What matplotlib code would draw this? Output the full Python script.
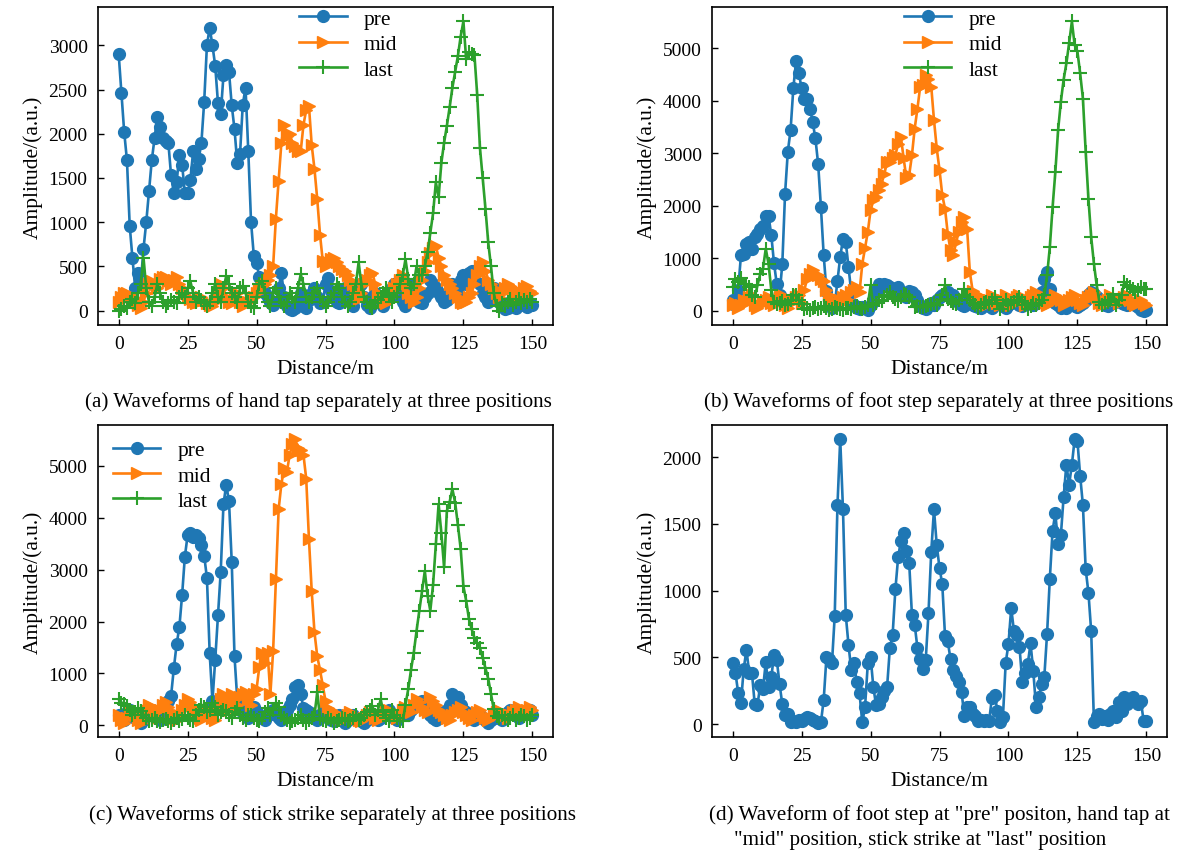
import numpy as np
import matplotlib
matplotlib.use("Agg")
import matplotlib.pyplot as plt

plt.rcParams["font.family"] = ["Liberation Serif", "DejaVu Serif"]

distance = np.arange(0, 151)

# (a) hand tap
pre_a = [2900, 2460, 2020, 1700, 960, 590, 250, 420, 300, 700,
         1000, 1350, 1700, 1950, 2190, 2080, 1950, 1920, 1900, 1530,
         1330, 1450, 1760, 1650, 1330, 1330, 1480, 1800, 1600, 1710,
         1900, 2360, 3000, 3200, 3000, 2770, 2350, 2220, 2660, 2780,
         2700, 2320, 2050, 1670, 1770, 2330, 2520, 1800, 1000, 620,
         540, 375, 250, 200, 150, 100, 60, 100, 250, 430,
         150, 50, 20, 10, 30, 100, 200, 50, 30, 120,
         200, 260, 150, 80, 100, 300, 370, 220, 150, 100,
         80, 150, 250, 200, 100, 50, 150, 280, 300, 150,
         60, 30, 100, 200, 150, 80, 50, 120, 200, 250,
         300, 200, 150, 100, 50, 150, 300, 250, 200, 100,
         80, 150, 200, 350, 300, 250, 200, 150, 100, 120,
         200, 300, 250, 200, 350, 400, 300, 420, 450, 350,
         460, 300, 200, 150, 100, 200, 250, 150, 100, 50,
         20, 30, 100, 50, 30, 80, 100, 60, 40, 80,
         60]
mid_a = [100, 150, 200, 200, 180, 150, 100, 60, 30, 100,
         200, 300, 340, 300, 250, 360, 375, 375, 340, 300,
         350, 380, 300, 250, 200, 150, 130, 100, 80, 100,
         150, 120, 80, 60, 50, 100, 200, 300, 250, 150,
         100, 80, 150, 200, 100, 50, 80, 100, 130, 150,
         200, 245, 280, 300, 350, 400, 500, 1040, 1470, 1900,
         2100, 1970, 2000, 1900, 1860, 1800, 1800, 2100, 2270, 2310,
         1870, 1600, 1260, 860, 560, 500, 550, 580, 600, 550,
         500, 470, 450, 400, 350, 300, 200, 130, 200, 300,
         350, 400, 430, 300, 200, 150, 100, 80, 150, 200,
         250, 300, 350, 400, 300, 200, 150, 100, 150, 250,
         350, 450, 550, 650, 710, 730, 600, 500, 400, 350,
         300, 250, 200, 150, 100, 80, 100, 150, 200, 300,
         400, 500, 545, 450, 350, 300, 250, 200, 150, 200,
         250, 300, 280, 250, 200, 150, 200, 250, 280, 220,
         200]
last_a = [0, 20, 50, 30, 100, 130, 80, 200, 300, 600,
          250, 100, 50, 150, 300, 200, 100, 50, 80, 120,
          100, 80, 150, 200, 150, 250, 330, 200, 100, 150,
          120, 80, 50, 100, 200, 300, 150, 100, 250, 390,
          300, 200, 150, 100, 250, 280, 200, 100, 50, 30,
          150, 300, 340, 200, 100, 50, 200, 250, 150, 100,
          50, 100, 200, 150, 100, 250, 410, 300, 150, 100,
          150, 200, 250, 150, 100, 50, 100, 150, 200, 300,
          250, 150, 100, 50, 100, 200, 300, 545, 300, 150,
          100, 50, 30, 80, 120, 150, 200, 250, 180, 100,
          150, 200, 300, 400, 580, 360, 250, 300, 500, 400,
          400, 500, 660, 880, 1100, 1450, 1280, 1670, 1900, 2090,
          2300, 2520, 2700, 2880, 3100, 3270, 2840, 2920, 2900, 2890,
          2440, 1840, 1500, 1150, 770, 500, 200, 50, 0, 80,
          50, 100, 130, 60, 100, 130, 80, 120, 100, 130,
          100]

# (b) foot step
pre_b = [200, 100, 400, 1050, 1080, 1270, 1300, 1180, 1400, 1460,
         1560, 1620, 1810, 1810, 1440, 900, 500, 300, 890, 2230,
         3030, 3440, 4240, 4760, 4520, 4240, 4040, 4040, 3850, 3600,
         3280, 2790, 1970, 1060, 380, 200, 50, 100, 570, 1020,
         1370, 1310, 830, 350, 100, 50, 30, 60, 50, 20,
         100, 200, 400, 510, 450, 500, 490, 450, 380, 400,
         440, 350, 300, 250, 380, 350, 300, 200, 100, 50,
         30, 80, 150, 100, 200, 250, 300, 290, 350, 280,
         290, 200, 150, 100, 80, 150, 200, 100, 80, 60,
         50, 100, 150, 80, 50, 100, 150, 120, 80, 50,
         100, 150, 200, 150, 100, 80, 150, 200, 180, 100,
         150, 250, 350, 600, 730, 410, 200, 150, 100, 50,
         80, 50, 100, 150, 80, 60, 100, 150, 200, 300,
         350, 320, 250, 200, 150, 100, 80, 120, 150, 200,
         180, 150, 130, 100, 150, 130, 100, 60, 20, 0,
         10]
mid_b = [100, 150, 50, 100, 200, 150, 250, 300, 100, 50,
         100, 150, 200, 250, 150, 100, 200, 250, 300, 100,
         50, 150, 200, 250, 300, 150, 400, 600, 700, 770,
         700, 670, 600, 570, 400, 300, 200, 100, 150, 200,
         250, 300, 200, 350, 400, 450, 350, 890, 1200, 1500,
         1910, 2100, 2160, 2300, 2420, 2610, 2830, 2830, 2900, 2960,
         3180, 3310, 2900, 2520, 2580, 2960, 3470, 3850, 4270, 4300,
         4490, 4420, 4270, 3630, 3090, 2680, 2200, 1940, 1460, 1150,
         1050, 1300, 1500, 1690, 1780, 1560, 730, 380, 200, 300,
         250, 150, 100, 200, 300, 250, 150, 100, 200, 300,
         200, 100, 150, 250, 300, 200, 100, 150, 250, 300,
         350, 300, 200, 150, 100, 150, 200, 300, 250, 200,
         100, 150, 200, 250, 300, 200, 150, 100, 200, 250,
         300, 350, 250, 150, 100, 150, 200, 300, 250, 200,
         150, 200, 250, 300, 200, 150, 100, 150, 200, 150,
         100]
last_b = [450, 600, 550, 620, 510, 500, 450, 300, 250, 480,
          700, 800, 1180, 890, 400, 160, 130, 150, 190, 100,
          120, 200, 290, 290, 200, 130, 30, 50, 20, 40,
          60, 30, 50, 80, 40, 20, 30, 60, 50, 30,
          20, 50, 40, 30, 60, 80, 50, 30, 60, 100,
          480, 100, 150, 200, 190, 250, 300, 350, 250, 220,
          180, 250, 320, 300, 250, 180, 60, 80, 60, 60,
          80, 100, 130, 150, 100, 200, 300, 480, 220, 180,
          150, 130, 200, 300, 410, 250, 200, 150, 100, 50,
          100, 150, 160, 120, 200, 250, 150, 30, 100, 200,
          100, 150, 160, 200, 250, 180, 100, 30, 80, 150,
          100, 150, 200, 290, 670, 1210, 1970, 2640, 3440, 3980,
          4400, 4710, 5100, 5510, 5060, 4940, 4520, 4040, 3030, 2130,
          1400, 890, 480, 160, 100, 150, 160, 200, 320, 100,
          200, 300, 540, 480, 450, 410, 350, 400, 450, 410,
          420]

# (c) stick strike
pre_c = [200, 150, 100, 250, 300, 200, 150, 100, 50, 100,
         200, 250, 300, 200, 150, 100, 250, 350, 470, 570,
         1100, 1560, 1890, 2510, 3250, 3660, 3700, 3620, 3660, 3600,
         3470, 3270, 2840, 1390, 470, 1260, 2120, 2960, 4260, 4630,
         4320, 3140, 1330, 500, 300, 250, 200, 150, 300, 350,
         250, 200, 150, 100, 200, 250, 300, 200, 150, 100,
         200, 300, 400, 500, 740, 770, 600, 340, 300, 250,
         200, 150, 100, 200, 250, 200, 150, 100, 80, 150,
         200, 100, 50, 100, 150, 200, 150, 100, 80, 50,
         100, 150, 200, 150, 100, 150, 200, 250, 300, 200,
         150, 100, 200, 300, 250, 200, 300, 350, 400, 450,
         470, 300, 250, 200, 150, 100, 150, 200, 250, 300,
         400, 600, 550, 540, 400, 300, 250, 200, 150, 100,
         150, 200, 150, 100, 50, 100, 150, 200, 150, 100,
         200, 250, 300, 250, 200, 150, 200, 250, 280, 300,
         200]
mid_c = [200, 100, 50, 150, 250, 300, 200, 100, 50, 150,
         300, 400, 350, 250, 150, 300, 400, 450, 350, 250,
         150, 100, 200, 300, 400, 500, 450, 350, 250, 150,
         100, 200, 300, 250, 150, 100, 300, 500, 600, 450,
         300, 600, 500, 400, 550, 600, 650, 500, 400, 600,
         700, 1130, 1400, 1200, 1400, 600, 1430, 2810, 4160, 4650,
         4950, 4880, 5210, 5410, 5510, 5340, 5310, 5210, 4750, 3580,
         2580, 1790, 1330, 1070, 770, 470, 340, 300, 250, 200,
         150, 100, 150, 200, 250, 200, 150, 100, 80, 150,
         200, 250, 200, 150, 100, 150, 200, 250, 300, 250,
         200, 150, 200, 300, 350, 300, 250, 400, 500, 450,
         350, 300, 250, 540, 470, 400, 300, 250, 200, 150,
         100, 200, 250, 300, 350, 250, 200, 150, 100, 200,
         250, 300, 200, 150, 100, 150, 200, 250, 300, 250,
         200, 150, 200, 250, 300, 350, 300, 250, 300, 350,
         300]
last_c = [500, 440, 420, 375, 300, 210, 250, 340, 280, 210,
          150, 80, 100, 150, 80, 60, 100, 120, 80, 50,
          100, 150, 80, 120, 200, 150, 100, 80, 200, 300,
          400, 350, 250, 300, 440, 350, 200, 250, 300, 280,
          200, 150, 250, 340, 200, 150, 100, 200, 210, 150,
          100, 80, 150, 250, 340, 200, 300, 440, 350, 200,
          150, 100, 50, 80, 100, 150, 200, 100, 50, 100,
          150, 200, 640, 150, 100, 80, 150, 100, 50, 80,
          100, 150, 120, 80, 100, 150, 200, 100, 150, 200,
          250, 300, 375, 200, 300, 500, 250, 150, 80, 300,
          200, 150, 80, 80, 400, 700, 1070, 1400, 1820, 2200,
          2580, 2970, 2500, 2210, 2710, 3500, 4260, 3700, 3040, 4130,
          4300, 4550, 4290, 3860, 3400, 2680, 2400, 2050, 1850, 1690,
          1580, 1490, 1300, 1100, 900, 600, 310, 180, 150, 200,
          145, 100, 150, 200, 100, 150, 210, 180, 100, 150,
          200]

# (d) foot step / hand tap / stick strike
mixed_d = [455, 385, 235, 155, 415, 555, 385, 380, 150, 145,
           290, 265, 465, 280, 350, 520, 480, 300, 150, 70,
           75, 13, 20, 15, 30, 20, 40, 50, 43, 30,
           20, 10, 15, 180, 500, 490, 455, 810, 1640, 2135,
           1610, 820, 595, 405, 455, 315, 230, 13, 130, 455,
           505, 280, 140, 150, 200, 250, 280, 570, 670, 1010,
           1250, 1375, 1430, 1300, 1210, 820, 745, 570, 490, 415,
           480, 830, 1290, 1610, 1340, 1170, 1050, 660, 620, 485,
           405, 360, 315, 240, 63, 126, 130, 75, 60, 25,
           30, 25, 30, 25, 197, 222, 100, 13, 55, 460,
           600, 870, 695, 670, 580, 315, 385, 450, 605, 400,
           125, 200, 300, 355, 677, 1090, 1450, 1580, 1350, 1415,
           1700, 1945, 1795, 1945, 2135, 2125, 1860, 1640, 1160, 985,
           695, 13, 63, 75, 40, 60, 30, 75, 100, 50,
           165, 100, 200, 150, 175, 200, 175, 150, 175, 25,
           25]

captions = ["(a) Waveforms of hand tap separately at three positions",
            "(b) Waveforms of foot step separately at three positions",
            "(c) Waveforms of stick strike separately at three positions",
            "(d) Waveform of foot step at \"pre\" positon, hand tap at",
            "\"mid\" position, stick strike at \"last\" position"]

LABEL_FS = 15.5
CAP_FS = 15.2
TICK_FS = 14
LW = 1.9
MS = 8.5


def style_axes(ax):
    ax.set_xticks([0, 25, 50, 75, 100, 125, 150])
    ax.tick_params(direction="in", labelsize=TICK_FS, length=4, width=1, pad=7.5)
    ax.set_xlabel("Distance/m", fontsize=LABEL_FS, labelpad=5)
    ax.set_ylabel("Amplitude/(a.u.)", fontsize=LABEL_FS, labelpad=4)
    for s in ax.spines.values():
        s.set_linewidth(1.2)


def plot_three(ax, pre, mid, last):
    ax.plot(distance, pre, marker="o", ms=MS, lw=LW, color="#1f77b4", label="pre")
    ax.plot(distance, mid, marker=">", ms=MS, lw=LW, color="#ff7f0e", label="mid")
    ax.plot(distance, last, marker="+", ms=MS + 1, mew=1.5, lw=LW, color="#2ca02c", label="last")


fig = plt.figure(figsize=(11.95, 8.53), dpi=100)

ax_a = fig.add_axes([0.0820, 0.6178, 0.3808, 0.3728])
plot_three(ax_a, pre_a, mid_a, last_a)
style_axes(ax_a)
ax_a.legend(loc="upper center", bbox_to_anchor=(0.55, 1.035), frameon=False,
            fontsize=LABEL_FS, handlelength=2.2, labelspacing=0.25, borderaxespad=0.2)

ax_b = fig.add_axes([0.5958, 0.6178, 0.3808, 0.3728])
plot_three(ax_b, pre_b, mid_b, last_b)
style_axes(ax_b)
ax_b.legend(loc="upper center", bbox_to_anchor=(0.53, 1.035), frameon=False,
            fontsize=LABEL_FS, handlelength=2.2, labelspacing=0.25, borderaxespad=0.2)

ax_c = fig.add_axes([0.0820, 0.1348, 0.3808, 0.3658])
plot_three(ax_c, pre_c, mid_c, last_c)
style_axes(ax_c)
ax_c.legend(loc="upper left", frameon=False, fontsize=LABEL_FS,
            handlelength=2.2, labelspacing=0.25, borderaxespad=0.3)

ax_d = fig.add_axes([0.5958, 0.1348, 0.3808, 0.3658])
ax_d.plot(distance, mixed_d, marker="o", ms=MS, lw=LW, color="#1f77b4")
style_axes(ax_d)

fig.text(85 / 1195, 1 - 402 / 853, captions[0], ha="left", va="center", fontsize=CAP_FS)
fig.text(704 / 1195, 1 - 402 / 853, captions[1], ha="left", va="center", fontsize=CAP_FS)
fig.text(89 / 1195, 1 - 815 / 853, captions[2], ha="left", va="center", fontsize=CAP_FS)
fig.text(709 / 1195, 1 - 815 / 853, captions[3], ha="left", va="center", fontsize=CAP_FS)
fig.text(734 / 1195, 1 - 841 / 853, captions[4], ha="left", va="center", fontsize=CAP_FS)

fig.savefig("out.png", dpi=100)
